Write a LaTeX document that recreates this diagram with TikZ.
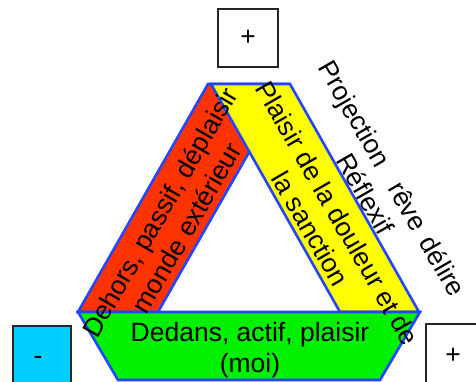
\documentclass[tikz,border=0pt]{standalone}
\usepackage{fontspec}
\setmainfont{Liberation Sans}
\definecolor{bandblue}{RGB}{35,70,255}
\definecolor{bandred}{RGB}{255,51,0}
\definecolor{bandyellow}{RGB}{255,255,0}
\definecolor{bandgreen}{RGB}{0,240,0}
\definecolor{boxcyan}{RGB}{0,204,255}
\begin{document}
\begin{tikzpicture}[x=1pt,y=-1pt,
  band/.style={draw=bandblue,line width=2.6pt,line join=miter},
  lbl/.style={font=\fontsize{26.5}{31}\selectfont, align=center, inner sep=0pt},
  signbox/.style={draw=black!85,line width=1.4pt}]
\useasboundingbox (0,0) rectangle (476,382);
\clip (0,0) rectangle (476,382);
% bands
\filldraw[band,fill=bandred] (208,84) -- (288,84) -- (158,312) -- (78,312) -- cycle;
\filldraw[band,fill=bandyellow] (211,84) -- (290,84) -- (419,312) -- (340,312) -- cycle;
\filldraw[band,fill=bandgreen] (78,312) -- (420,312) -- (380,380) -- (118,380) -- cycle;
% sign boxes
\node[signbox, lbl, minimum width=60pt, minimum height=58pt] (ptop) at (248,38) {+};
\draw[signbox, fill=boxcyan] (13,326) rectangle (71,400);
\node[lbl] (minus) at (38,360) {-};
\draw[signbox, fill=white] (426,324) rectangle (500,400);
\node[lbl] (pright) at (453,356) {+};
% texts
\node[lbl, rotate=60] (dehors) at (173,220) {Dehors, passif, déplaisir\\monde extérieur};
\node[lbl, rotate=-60] (plaisir) at (324,221) {Plaisir de la douleur et de\\la sanction};
\node[lbl, rotate=-60] (proj) at (379,186) {Projection\hspace{22pt}rêve\hspace{11pt}délire\\Réflexif};
\node[lbl] (dedans) at (250,350) {Dedans, actif, plaisir\\(moi)};
\end{tikzpicture}
\end{document}
